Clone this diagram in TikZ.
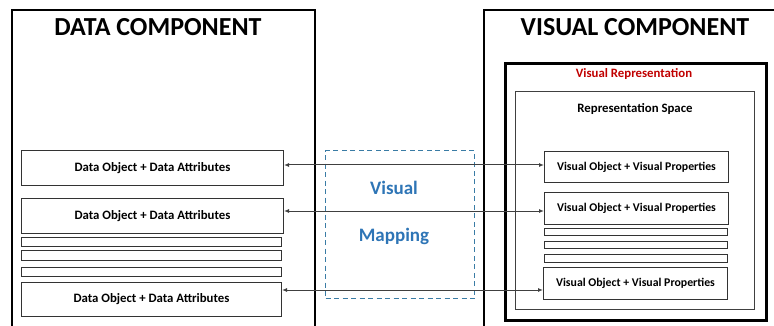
\documentclass[tikz,border=0pt]{standalone}
\usepackage{fontspec}
\setmainfont{Carlito}
\usetikzlibrary{arrows.meta}
\definecolor{mapblue}{HTML}{2E75B6}
\definecolor{dashblue}{HTML}{3A7CA5}
\definecolor{repred}{HTML}{C00000}
\tikzset{
  outerbox/.style={draw=black, line width=2pt, inner sep=0pt, anchor=north west},
  repbox/.style={draw=black, line width=3pt, inner sep=0pt, anchor=north west},
  spacebox/.style={draw=black!75, line width=1pt, inner sep=0pt, anchor=north west},
  itembox/.style={draw=black!80, line width=1pt, inner sep=0pt, anchor=north west},
  bar/.style={draw=black!80, line width=1pt, inner sep=0pt, anchor=north west},
  title/.style={font=\fontsize{26}{30}\selectfont\bfseries},
  label/.style={font=\fontsize{12.8}{14}\selectfont\bfseries},
  vlabel/.style={font=\fontsize{11.8}{14}\selectfont\bfseries},
  maplabel/.style={font=\fontsize{19}{22}\selectfont\bfseries, text=mapblue},
  arr/.style={draw=black!75, line width=1pt, {Latex[length=5pt,width=4pt]}-{Latex[length=5pt,width=4pt]}},
}
\begin{document}
\begin{tikzpicture}[x=1pt,y=-1pt]
\useasboundingbox (0,0) rectangle (774,326);
\clip (0,0) rectangle (774,326);
% outer components
\node[outerbox, minimum width=303pt, minimum height=340pt] (dc) at (11,9) {};
\node[title] (dct) at (158,27) {DATA COMPONENT};
\node[outerbox, minimum width=320pt, minimum height=340pt] (vc) at (483,9) {};
\node[title] (vct) at (635,27) {VISUAL COMPONENT};
% visual representation
\node[repbox, minimum width=261pt, minimum height=257pt] (vr) at (504,62) {};
\node[label, text=repred] (vrt) at (634,74) {Visual Representation};
\node[spacebox, minimum width=239pt, minimum height=218pt] (rs) at (515,91) {};
\node[label] (rst) at (635,109) {Representation Space};
% data boxes
\node[itembox, minimum width=262pt, minimum height=35pt] (d1) at (21,150) {};
\node[label] at (d1.center) {Data Object + Data Attributes};
\node[itembox, minimum width=262pt, minimum height=35pt] (d2) at (21,198) {};
\node[label] at (d2.center) {Data Object + Data Attributes};
\node[bar, minimum width=260pt, minimum height=9pt] (db1) at (21,237) {};
\node[bar, minimum width=260pt, minimum height=10pt] (db2) at (21,250) {};
\node[bar, minimum width=260pt, minimum height=9pt] (db3) at (21,267) {};
\node[itembox, minimum width=260pt, minimum height=34pt] (d3) at (21,282) {};
\node[label] at (d3.center) {Data Object + Data Attributes};
% visual boxes
\node[itembox, minimum width=184pt, minimum height=31pt] (v1) at (544,151) {};
\node[vlabel] at (v1.center) {Visual Object + Visual Properties};
\node[itembox, minimum width=184pt, minimum height=32pt] (v2) at (544,192) {};
\node[vlabel] at (v2.center) {Visual Object + Visual Properties};
\node[bar, minimum width=183pt, minimum height=7pt] (vb1) at (544,228) {};
\node[bar, minimum width=183pt, minimum height=7pt] (vb2) at (544,241) {};
\node[bar, minimum width=183pt, minimum height=8pt] (vb3) at (544,254) {};
\node[itembox, minimum width=184pt, minimum height=32pt] (v3) at (543,267) {};
\node[vlabel] at (v3.center) {Visual Object + Visual Properties};
% mapping
\node[draw=dashblue, line width=1.2pt, dash pattern=on 5pt off 3.5pt, inner sep=0pt,
  anchor=north west, minimum width=149pt, minimum height=148pt] (vm) at (325,150) {};
\node[maplabel] (vmt1) at (394,188) {Visual};
\node[maplabel] (vmt2) at (394,236) {Mapping};
% connectors
\draw[arr] (d1.east |- 0,165) -- (v1.west |- 0,165);
\draw[arr] (d2.east |- 0,211) -- (v2.west |- 0,211);
\draw[arr] (d3.east |- 0,290) -- (v3.west |- 0,290);
\end{tikzpicture}
\end{document}
